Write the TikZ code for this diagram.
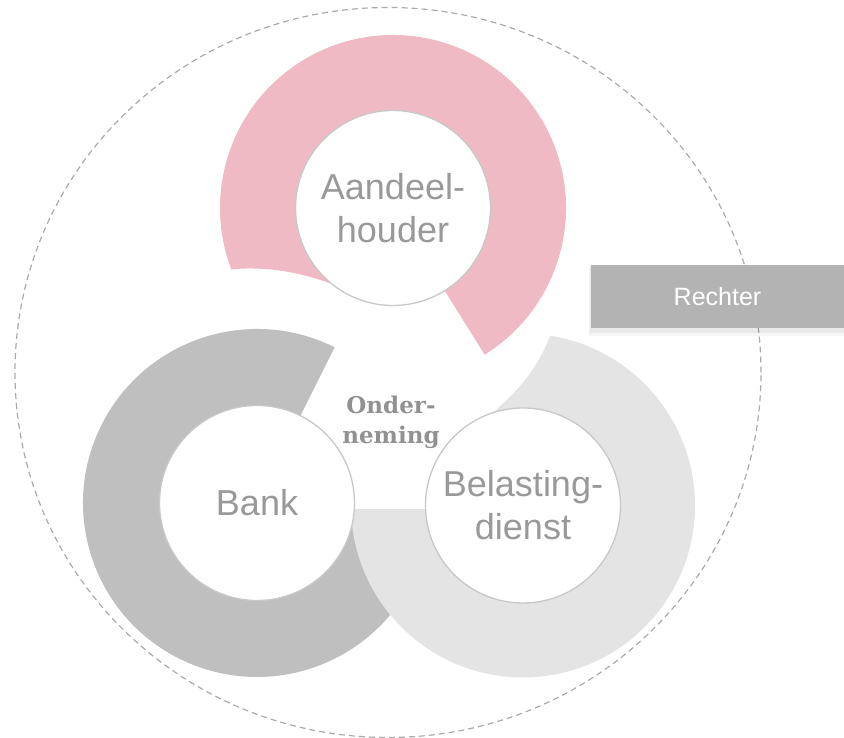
\documentclass[tikz,border=0pt]{standalone}
\usepackage{fontspec}
\setmainfont{Liberation Sans}
\newfontfamily\ondfont{DejaVu Serif}
\usetikzlibrary{calc}
\definecolor{pinkc}{RGB}{240,186,197}
\definecolor{bankc}{RGB}{191,191,191}
\definecolor{belc}{RGB}{228,228,228}
\definecolor{rechc}{RGB}{179,179,179}
\definecolor{txtc}{RGB}{153,153,153}
\definecolor{ondc}{RGB}{145,145,145}
\definecolor{bordc}{RGB}{200,200,200}
\definecolor{dashc}{RGB}{170,170,170}
\begin{document}
\begin{tikzpicture}[x=1pt,y=1pt,
  hub/.style={circle, minimum size=195pt, inner sep=0pt, fill=white, draw=bordc, line width=1.3pt,
              text=txtc, align=center, font=\fontsize{36}{43}\selectfont},
  boundary/.style={draw=dashc, line width=1.2pt, dash pattern=on 6pt off 4pt},
  rechbox/.style={rectangle, fill=rechc, minimum width=253pt, minimum height=63pt, inner sep=0pt,
                  text=white, font=\fontsize{25}{30}\selectfont},
  centre/.style={text=ondc, align=center, font=\ondfont\bfseries\fontsize{23}{30}\selectfont}]
\useasboundingbox (0,0) rectangle (844,738);
\coordinate (P) at (393,530);
\coordinate (B) at (257,235);
\coordinate (L) at (523,232.5);
% dashed boundary
\draw[boundary] (388,365.5) ellipse [x radius=373, y radius=365];
% rings
\fill[pinkc] ($(P)+(-58:173)$) arc[start angle=-58, end angle=200.8, radius=173]
  .. controls (265,472) and (300,466) .. ($(P)+(232:97)$)
  arc[start angle=232, end angle=-58, radius=97] -- cycle;
\fill[bankc] ($(B)+(63.5:174)$) arc[start angle=63.5, end angle=354, radius=174]
  -- ($(B)+(354:97)$) arc[start angle=354, end angle=63.5, radius=97] -- cycle;
\fill[belc] ($(L)+(181.2:172)$) arc[start angle=181.2, end angle=440.9, radius=172]
  .. controls (538.2,371.2) and (517.2,344.7) .. ($(L)+(109.4:97)$)
  arc[start angle=469.4, end angle=182.1, radius=97] -- cycle;
% hubs
\node[hub] (aand) at (P) {Aandeel-\\houder};
\node[hub] (bank) at (B) {Bank};
\node[hub] (bel) at (L) {Belasting-\\dienst};
\node[centre] (ond) at (391,316) {Onder-\\neming};
% Rechter
\begin{scope}
\clip (0,0) rectangle (844,738);
\fill[black, opacity=0.04] (589,402) rectangle (850,471);
\fill[black, opacity=0.05] (590,405) rectangle (850,472);
\node[rechbox] (rech) at (717.5,441.5) {Rechter};
\end{scope}
\end{tikzpicture}
\end{document}
